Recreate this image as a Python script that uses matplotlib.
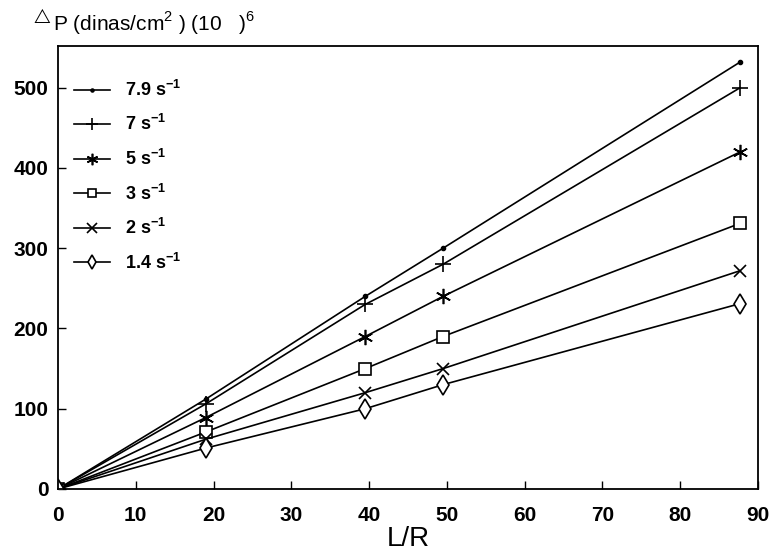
import numpy as np
import matplotlib.pyplot as plt

plt.rcParams['font.family'] = ['Liberation Sans', 'DejaVu Sans']
plt.rcParams['mathtext.fontset'] = 'custom'
plt.rcParams['mathtext.rm'] = 'Liberation Sans'
plt.rcParams['mathtext.bf'] = 'Liberation Sans:bold'

# L/R values
lr = [0, 19, 39.5, 49.5, 87.7]

# pressure drop for each shear rate
labels = ['7.9', '7', '5', '3', '2', '1.4']
p_79 = [0, 112, 240, 300, 532]
p_7 = [0, 106, 230, 280, 500]
p_5 = [0, 89, 190, 240, 420]
p_3 = [0, 71, 150, 190, 331]
p_2 = [0, 62, 120, 150, 272]
p_14 = [0, 51, 100, 130, 231]

series = [p_79, p_7, p_5, p_3, p_2, p_14]
markers = [dict(marker='.', ms=6, mfc='k'),
           dict(marker='+', ms=12, mew=1.2),
           dict(marker=(6, 2, 0), ms=11, mew=1.2),
           dict(marker='s', ms=8, mfc='white', mew=1.2),
           dict(marker='x', ms=9, mew=1.2),
           dict(marker='d', ms=10, mfc='white', mew=1.2)]

fig = plt.figure(figsize=(7.78, 5.57), dpi=100)
ax = fig.add_axes([58 / 778, (557 - 489) / 557, 700 / 778, 443 / 557])

for lab, vals, mk in zip(labels, series, markers):
    ax.plot(lr, vals, color='k', lw=1.2, label=lab + r' s$^{\mathbf{-1}}$', **mk)

ax.set_xlim(0, 90)
ax.set_ylim(0, 552)
ax.set_xticks(range(0, 91, 10))
ax.set_yticks(range(0, 501, 100))
ax.tick_params(direction='in', length=6, width=1, labelsize=15)
ax.tick_params(axis='x', pad=12)
ax.tick_params(axis='y', pad=7)
for lbl in ax.get_xticklabels() + ax.get_yticklabels():
    lbl.set_fontweight('bold')
for s in ax.spines.values():
    s.set_linewidth(1.3)

ax.set_xlabel('L/R', fontsize=20, labelpad=1)

leg = ax.legend(loc='upper left', bbox_to_anchor=(0.013, 0.94), frameon=False,
                fontsize=13, handlelength=2.0, labelspacing=0.8, handletextpad=0.8,
                borderaxespad=0, markerscale=0.75)
for t in leg.get_texts():
    t.set_fontweight('bold')

fig.text(30 / 778, 1 - 22 / 557, r'$^{\triangle}$P (dinas/cm$^{2}$ ) (10   )$^{6}$',
         fontsize=15, va='center', ha='left')

fig.savefig('out.png', dpi=100)
